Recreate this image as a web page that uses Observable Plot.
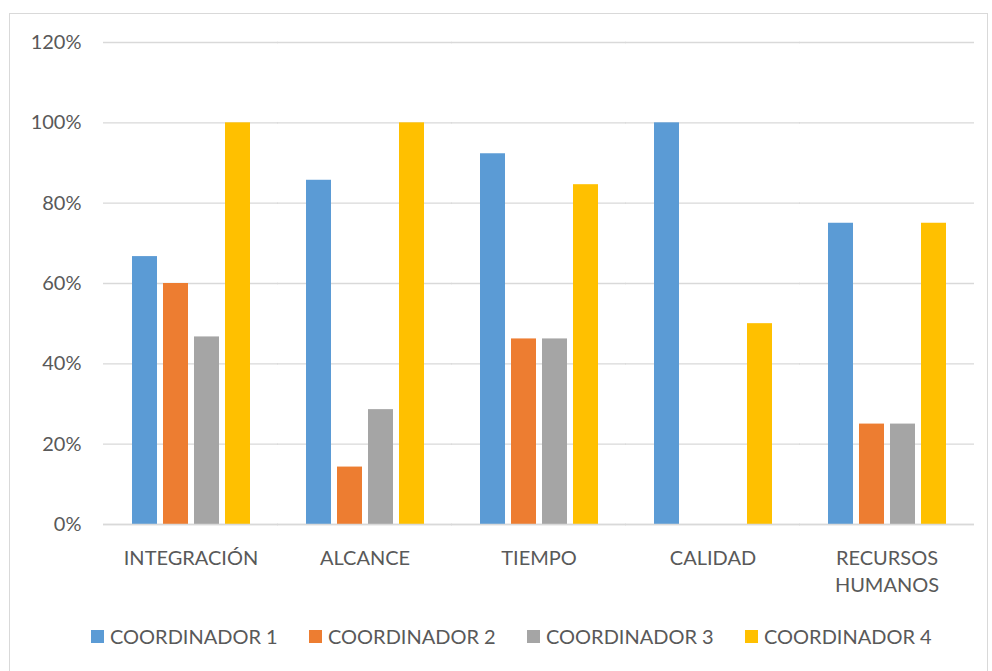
<!DOCTYPE html>
<html>
<head>
<meta charset="utf-8">
<script src="https://cdn.jsdelivr.net/npm/d3@7"></script>
<script src="https://cdn.jsdelivr.net/npm/@observablehq/plot@0.6"></script>
<style>
  html, body { margin: 0; padding: 0; background: #fff; width: 992px; height: 671px; overflow: hidden; }
  #frame { position: absolute; left: 9px; top: 13px; width: 979px; height: 680px; border: 1px solid #d9d9d9; box-sizing: border-box; }
  #chart { position: absolute; left: 0; top: 0; }
  #legend { position: absolute; left: 91px; top: 624px; display: flex; font-family: Lato, sans-serif; font-size: 20px; color: #595959; }
  .item { width: 218px; display: flex; align-items: center; white-space: nowrap; }
  .sw { width: 13px; height: 13px; margin-right: 6px; flex: none; }
</style>
</head>
<body>
<div id="frame"></div>
<div id="chart"></div>
<div id="legend"></div>
<script>
const categories = ["INTEGRACIÓN", "ALCANCE", "TIEMPO", "CALIDAD", "RECURSOS HUMANOS"];
const series = ["COORDINADOR 1", "COORDINADOR 2", "COORDINADOR 3", "COORDINADOR 4"];
const coord1 = [0.667, 0.857, 0.923, 1.0, 0.75];
const coord2 = [0.60, 0.143, 0.462, 0.0, 0.25];
const coord3 = [0.467, 0.286, 0.462, 0.0, 0.25];
const coord4 = [1.0, 1.0, 0.846, 0.5, 0.75];
const yTicks = [0, 0.2, 0.4, 0.6, 0.8, 1.0, 1.2];
const colors = ["#5b9bd5", "#ed7d31", "#a5a5a5", "#ffc000"];

const values = [coord1, coord2, coord3, coord4];
const data = [];
categories.forEach((c, i) => {
  series.forEach((s, j) => data.push({category: c, series: s, value: values[j][i]}));
});

const chart = Plot.plot({
  width: 992,
  height: 600,
  marginLeft: 102,
  marginRight: 17,
  marginTop: 42,
  marginBottom: 76,
  style: {fontFamily: "Lato, sans-serif", fontSize: "20px", color: "#595959", background: "transparent"},
  fx: {domain: categories, paddingInner: 0.284, paddingOuter: 0.142, label: null},
  x: {domain: series, paddingInner: 0.2, paddingOuter: 0.1, axis: null},
  y: {domain: [0, 1.2], label: null},
  color: {domain: series, range: colors},
  marks: [
    Plot.ruleY(yTicks, {stroke: "#d9d9d9", strokeWidth: 1.3, insetLeft: -25, insetRight: -25}),
    Plot.barY(data, {fx: "category", x: "series", y: "value", fill: "series"}),
    Plot.ruleY([0], {stroke: "#d9d9d9", strokeWidth: 1.6, insetLeft: -25, insetRight: -25}),
    Plot.axisY({ticks: yTicks, tickFormat: d3.format(".0%"), tickSize: 0, tickPadding: 47, label: null, fill: "#595959"}),
    Plot.axisFx({
      anchor: "bottom", tickSize: 0, tickPadding: 21, label: null, lineHeight: 1.35, fill: "#595959",
      tickFormat: d => d === "RECURSOS HUMANOS" ? "RECURSOS\nHUMANOS" : d
    })
  ]
});
document.getElementById("chart").appendChild(chart);

const legend = document.getElementById("legend");
series.forEach((s, i) => {
  const item = document.createElement("div");
  item.className = "item";
  const sw = document.createElement("span");
  sw.className = "sw";
  sw.style.background = colors[i];
  const t = document.createElement("span");
  t.textContent = s;
  item.appendChild(sw);
  item.appendChild(t);
  legend.appendChild(item);
});
</script>
</body>
</html>
